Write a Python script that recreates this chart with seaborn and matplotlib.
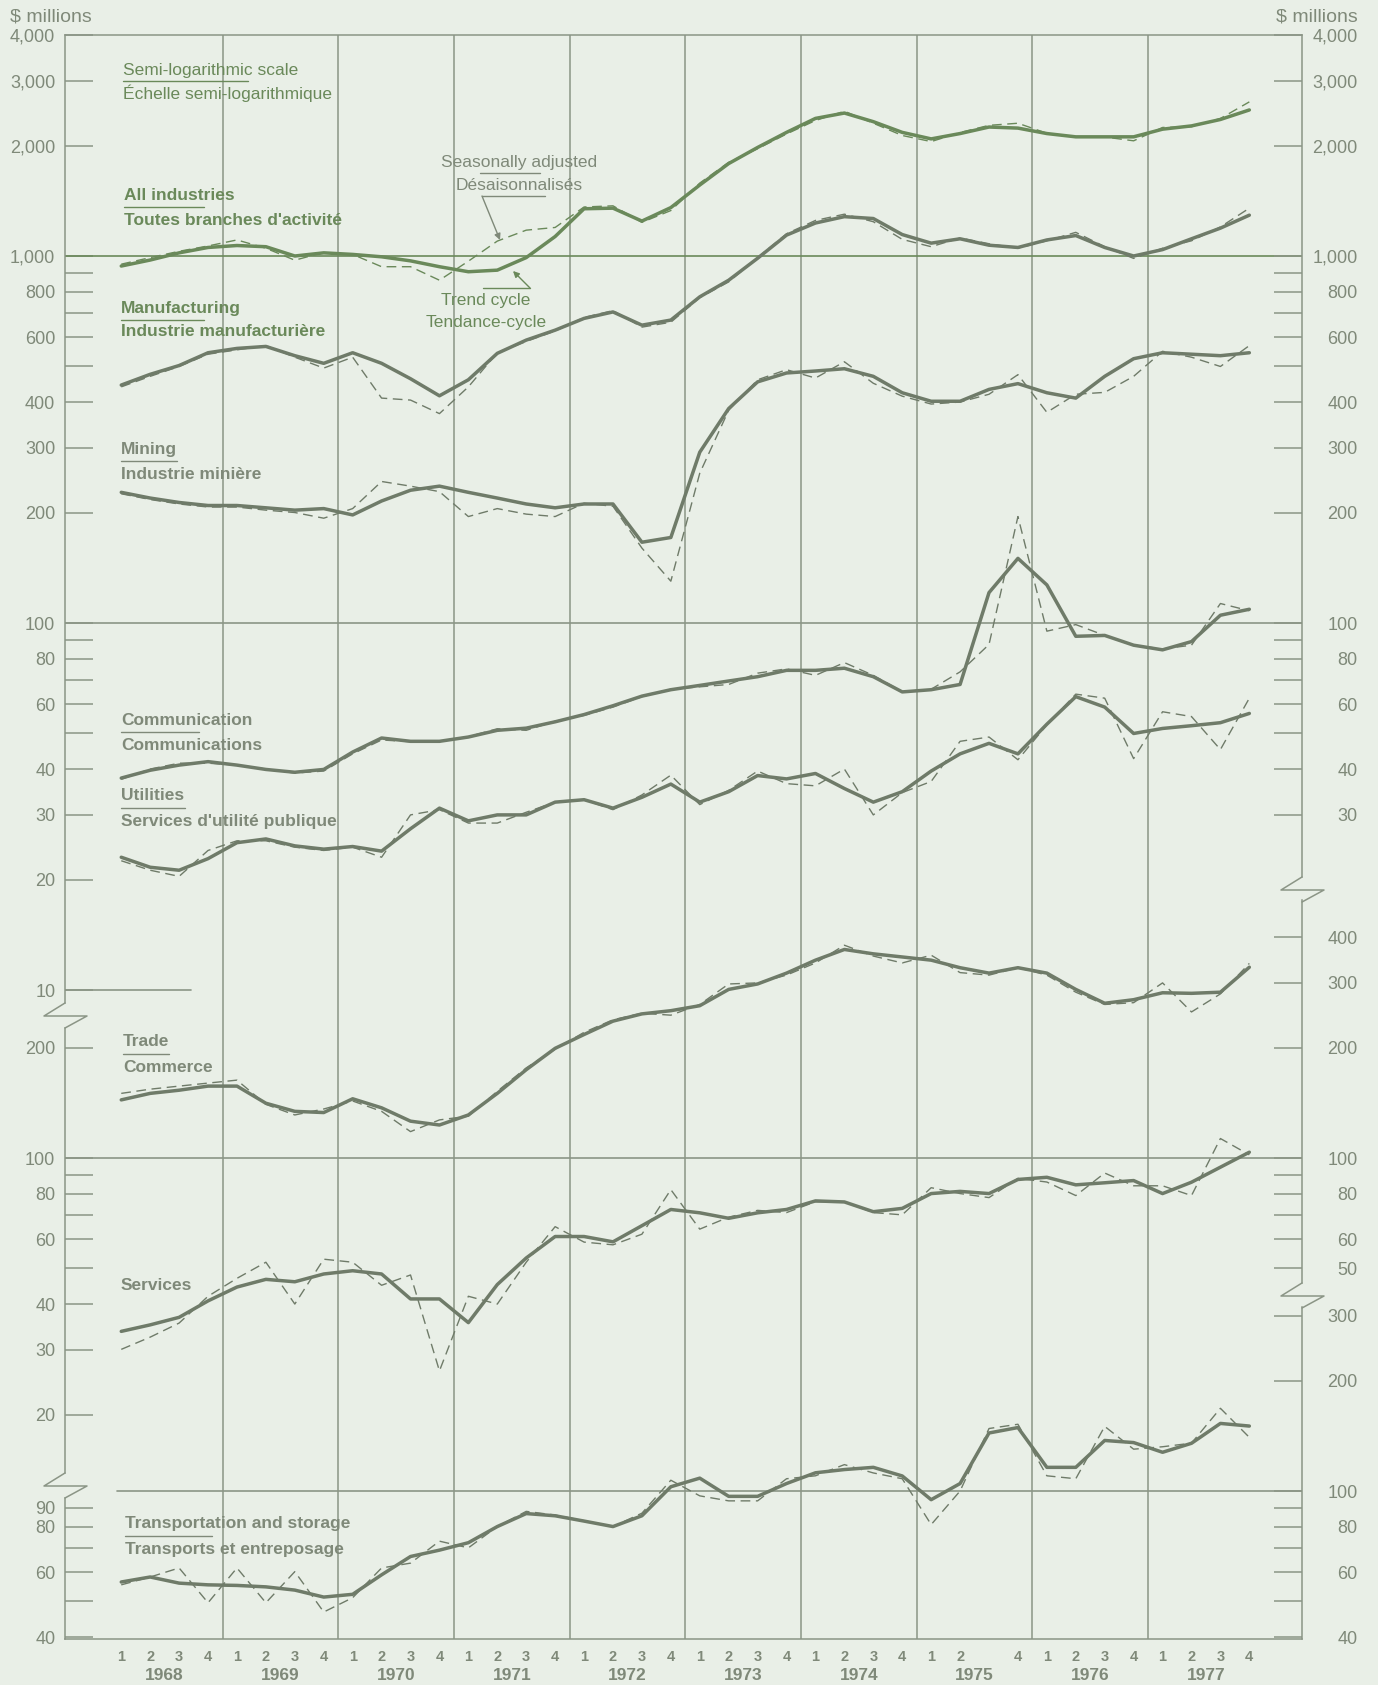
import numpy as np
import pandas as pd
import matplotlib.pyplot as plt
import seaborn as sns
import matplotlib.transforms as mtransforms
from matplotlib.ticker import FixedLocator, FixedFormatter, FuncFormatter, NullFormatter
from matplotlib.lines import Line2D

# ---- data: quarterly, 1968 Q1 .. 1977 Q4, $ millions ----
years = list(range(1968, 1978))
quarter_labels = ['1', '2', '3', '4'] * 10
quarter_labels[30] = ''          # 1975 Q3 not printed on the original

all_trend = [939, 975, 1020, 1055, 1068, 1060, 1000, 1020, 1010, 995, 970, 935,
             906, 915, 990, 1130, 1345, 1350, 1245, 1355, 1561, 1786, 1976, 2172,
             2371, 2452, 2323, 2172, 2085, 2156, 2246, 2231, 2156, 2112, 2112, 2112,
             2216, 2262, 2355, 2500]
all_sa = [950, 990, 1030, 1065, 1106, 1050, 974, 1023, 1010, 935, 935, 859,
          968, 1098, 1176, 1196, 1360, 1370, 1235, 1330, 1580, 1800, 1960, 2150,
          2340, 2480, 2300, 2130, 2050, 2170, 2270, 2300, 2160, 2110, 2110, 2060,
          2240, 2250, 2370, 2630]

manu_trend = [445, 476, 503, 545, 560, 567, 535, 510, 545, 510, 463, 416,
              460, 543, 590, 628, 676, 704, 648, 669, 774, 859, 986, 1140,
              1230, 1280, 1265, 1144, 1084, 1114, 1070, 1055, 1106, 1137, 1055, 1000,
              1041, 1114, 1191, 1292]
manu_sa = [440, 470, 500, 540, 555, 570, 530, 495, 530, 410, 405, 372,
           440, 545, 585, 625, 680, 710, 640, 660, 770, 850, 990, 1150,
           1250, 1300, 1240, 1110, 1060, 1120, 1080, 1050, 1100, 1160, 1060, 985,
           1050, 1100, 1200, 1350]

mining_trend = [227, 219, 213, 209, 209, 206, 203, 205, 197, 215, 230, 236,
                227, 219, 211, 206, 211, 211, 166, 171, 292, 384, 454, 480,
                486, 493, 470, 424, 402, 402, 433, 449, 424, 410, 470, 525,
                545, 540, 535, 545]
mining_sa = [225, 217, 211, 207, 207, 203, 200, 193, 205, 243, 236, 228,
             195, 205, 198, 195, 212, 208, 160, 130, 256, 380, 460, 490,
             465, 515, 450, 415, 395, 400, 420, 475, 375, 420, 425, 470,
             550, 530, 500, 570]

comm_trend = [37.8, 39.7, 41.0, 41.9, 41.0, 39.9, 39.2, 39.9, 44.5, 48.6, 47.6, 47.6,
              48.9, 51.0, 51.7, 53.8, 56.3, 59.5, 63.2, 65.8, 67.6, 69.5, 71.4, 74.3,
              74.3, 75.3, 71.4, 64.9, 65.8, 68.0, 121, 150, 127, 92, 92.5, 87,
              84.5, 89, 105, 109]
comm_sa = [37.5, 40, 41.5, 41.5, 41, 40, 39, 39.5, 44, 48, 47.5, 47.5,
           49, 51.5, 51, 54, 56, 59, 63, 66, 67, 68, 73, 75,
           72, 78, 72, 65, 66, 73.6, 87.4, 195, 95, 99, 92.5, 87,
           85, 87, 113, 108]

util_trend = [23.0, 21.6, 21.2, 22.8, 25.2, 25.8, 24.7, 24.2, 24.6, 23.9, 27.5, 31.3,
              28.9, 30.0, 30.0, 32.5, 33.0, 31.3, 33.5, 36.4, 32.5, 34.7, 38.4, 37.6,
              38.9, 35.4, 32.5, 34.7, 39.5, 44, 47, 44, 53, 63, 59, 50,
              51.6, 52.5, 53.5, 56.7]
util_sa = [22.5, 21.2, 20.4, 24, 25.5, 25.5, 24.5, 24, 24.5, 23, 30, 31,
           28.5, 28.5, 30.5, 32.5, 33, 31, 34, 38.5, 32, 35, 39.5, 36.5,
           36, 40, 30, 34.5, 37, 47.6, 48.9, 42.4, 52.8, 64, 62.4, 42.7,
           57.3, 55.6, 45.2, 62.4]

trade_trend = [144, 150, 153, 157, 157, 141, 134, 133, 145, 137, 126, 123,
               131, 150, 174, 199, 217, 236, 247, 252, 260, 288, 298, 319,
               346, 370, 360, 353, 346, 330, 319, 330, 319, 288, 264, 270,
               282, 281, 283, 331]
trade_sa = [150, 154, 157, 160, 163, 140, 131, 136, 143, 134, 118, 127,
            130, 152, 176, 198, 220, 238, 248, 245, 262, 298, 300, 315,
            340, 380, 355, 340, 357, 320, 315, 330, 315, 283, 262, 265,
            300, 250, 280, 339]

serv_trend = [33.7, 35.1, 36.8, 40.8, 44.5, 46.7, 46.0, 48.3, 49.3, 48.3, 41.3, 41.3,
              35.6, 45.2, 53.4, 61.1, 61.1, 59.1, 65.4, 72.4, 70.9, 68.5, 70.9, 72.4,
              76.4, 75.9, 71.4, 72.9, 80.0, 81.1, 80.0, 87.4, 88.6, 84.5, 85.6, 86.8,
              80.0, 85.9, 94.4, 103.7]
serv_sa = [30.1, 32.5, 35.5, 42, 47, 52, 40, 53, 52, 45, 48, 26.3,
           42, 40, 52, 65, 59, 58, 62, 82, 64, 69, 72, 71,
           76, 76, 71, 70, 83, 80, 78, 88, 86, 79, 91, 84,
           84, 79, 113, 102]

trans_trend = [56.5, 58.3, 56.1, 55.5, 55.3, 54.8, 53.7, 51.4, 52.3, 59.1, 66.3, 69.0,
               72.3, 80.0, 86.8, 85.6, 82.8, 80.0, 85.6, 102.7, 108.4, 96.7, 96.7, 104.8,
               112.1, 114.4, 116.0, 109.9, 94.7, 104.8, 143.9, 148.9, 116, 116, 137.3, 135.5,
               127.5, 134.9, 152.8, 150.3]
trans_sa = [55.5, 58.3, 61.7, 49.6, 61.7, 49.6, 60.3, 46.8, 51.2, 61.7, 63.6, 73,
            70, 80, 88, 86, 83, 80, 87, 107, 97, 94, 94, 108,
            110, 118, 112, 108, 81, 100, 148, 152, 110, 108, 150, 130,
            132, 135, 168, 140]

# ---- layout (pixels of the 1378x1685 figure) ----
W, H = 1378, 1685
L, R, T, B = 65, 1302, 35, 1639
DEC = 367.0                     # pixels per decade on every scale
X1969, YEARPX = 222.5, 115.7    # x pixel of 1969.0 and pixels per year

BG = '#e9efe7'
GRID = '#8b9586'
LINE = '#6f7b69'
GREEN = '#6a895a'
TXT = '#7f8979'


def fx(x):
    return x / W


def fy(y):
    return 1 - y / H


def val(ypx, anchor):
    v, y0 = anchor
    return v * 10 ** ((y0 - ypx) / DEC)


def xv(px):
    return 1969 + (px - X1969) / YEARPX


sns.set_theme(style='white', rc={'figure.facecolor': BG, 'axes.facecolor': BG})
plt.rcParams['font.family'] = ['Liberation Sans', 'DejaVu Sans']

qx = [y + (q - 0.5) / 4 for y in years for q in range(1, 5)]

fig = plt.figure(figsize=(W / 100, H / 100), dpi=100)
rect = [fx(L), fy(B), fx(R) - fx(L), fy(T) - fy(B)]
ax1 = fig.add_axes(rect)
ax2 = fig.add_axes(rect, sharex=ax1)
ax3 = fig.add_axes(rect, sharex=ax1)
b1, b2, b3 = (1000, 256), (100, 1158), (100, 1491)

# ---- series ----
groups = [
    (ax1, all_trend, all_sa, GREEN),
    (ax1, manu_trend, manu_sa, LINE),
    (ax1, mining_trend, mining_sa, LINE),
    (ax1, comm_trend, comm_sa, LINE),
    (ax1, util_trend, util_sa, LINE),
    (ax2, trade_trend, trade_sa, LINE),
    (ax2, serv_trend, serv_sa, LINE),
    (ax3, trans_trend, trans_sa, LINE),
]
for ax, tr, sa, c in groups:
    sns.lineplot(x=qx, y=sa, ax=ax, color=c, linewidth=1.0, linestyle=(0, (7, 4)), zorder=3)
    sns.lineplot(x=qx, y=tr, ax=ax, color=c, linewidth=2.5, zorder=4)

twins = []
for ax, anchor in [(ax1, b1), (ax2, b2), (ax3, b3)]:
    ax.set_yscale('log')
    ax.set_ylim(val(B, anchor), val(T, anchor))
    ax.patch.set_visible(False)
    r = ax.twinx()
    r.set_yscale('log')
    r.set_ylim(val(B, anchor), val(T, anchor))
    twins.append(r)
ax1.set_xlim(xv(L), xv(R))

fmt = FuncFormatter(lambda v, p: f'{v:,.0f}')


def style_y(ax, major, minor, side):
    ax.yaxis.set_major_locator(FixedLocator(major))
    ax.yaxis.set_minor_locator(FixedLocator(minor))
    ax.yaxis.set_major_formatter(fmt)
    ax.yaxis.set_minor_formatter(NullFormatter())
    left = side == 'left'
    ax.tick_params(axis='y', which='both', direction='in', length=20, width=1.1,
                   color=GRID, left=left, right=not left, labelleft=left,
                   labelright=not left, labelsize=13, labelcolor=TXT,
                   pad=7 if left else 40)
    for s in ax.spines.values():
        s.set_visible(False)
    sp = ax.spines[side]
    sp.set_visible(True)
    sp.set_color(GRID)
    sp.set_linewidth(1.1)
    return sp


# left scales
style_y(ax1, [4000, 3000, 2000, 1000, 800, 600, 400, 300, 200, 100, 80, 60, 40, 30, 20, 10],
        [900, 700, 500, 90, 70, 50], 'left').set_bounds(val(1003, b1), 4000)
style_y(ax2, [200, 100, 80, 60, 40, 30, 20], [90, 70, 50], 'left').set_bounds(
    val(1473, b2), val(1028, b2))
style_y(ax3, [90, 80, 60, 40], [70, 50], 'left').set_bounds(val(B, b3), val(1498, b3))
# right scales
style_y(twins[0], [4000, 3000, 2000, 1000, 800, 600, 400, 300, 200, 100, 80, 60, 40, 30],
        [900, 700, 500, 90, 70, 50], 'right').set_bounds(val(877, b1), 4000)
style_y(twins[1], [400, 300, 200, 100, 80, 60, 50], [90, 70], 'right').set_bounds(
    val(1283, b2), val(900, b2))
style_y(twins[2], [300, 200, 100, 80, 60, 40], [90, 70, 50], 'right').set_bounds(
    val(B, b3), val(1307, b3))
for r in twins:
    plt.setp(r.get_yticklabels(), ha='right')

ax1.spines['top'].set_visible(True)
ax1.spines['top'].set_color(GRID)
ax1.spines['top'].set_linewidth(1.1)
ax3.spines['bottom'].set_visible(True)
ax3.spines['bottom'].set_color(GRID)
ax3.spines['bottom'].set_linewidth(1.1)

# ---- x axis: quarters and years ----
ax3.xaxis.set_major_locator(FixedLocator(qx))
ax3.xaxis.set_major_formatter(FixedFormatter(quarter_labels))
ax3.xaxis.set_minor_locator(FixedLocator(np.arange(1968, 1978.01, 0.25)))
for ax in (ax1, ax2):
    ax.tick_params(axis='x', which='both', bottom=False, top=False, labelbottom=False)
ax3.tick_params(axis='x', which='major', length=0, pad=8, labelsize=10.5, labelcolor=TXT)
ax3.tick_params(axis='x', which='minor', direction='in', length=18, width=1.1, color=GRID)
plt.setp(ax3.get_xticklabels(), fontweight='bold')
trans = mtransforms.blended_transform_factory(ax3.transData, fig.transFigure)
for y in years:
    ax3.text(y + 0.5, fy(1675), str(y), transform=trans, ha='center', va='center',
             fontsize=12.5, fontweight='bold', color=TXT)

# ---- grid ----
for y in years[1:]:
    ax1.axvline(y, color=GRID, lw=1.1, zorder=1)
ax1.axhline(1000, color=GREEN, lw=1.2, zorder=1)
ax1.axhline(100, color=GRID, lw=1.2, zorder=1)
ax1.axhline(10, xmax=(191 - L) / (R - L), color=GRID, lw=1.2, zorder=1)
ax2.axhline(100, color=GRID, lw=1.2, zorder=1)
ax3.axhline(100, xmin=(117 - L) / (R - L), color=GRID, lw=1.2, zorder=1)


def seg(xs, ys, color=GRID, lw=1.1):
    fig.add_artist(Line2D([fx(x) for x in xs], [fy(y) for y in ys],
                          transform=fig.transFigure, color=color, lw=lw))


# scale breaks
for x0, y0 in [(L, 1003), (L, 1473), (R, 877), (R, 1283)]:
    seg([x0, x0 - 21, x0 + 22, x0], [y0, y0 + 13, y0 + 13, y0 + 25])

# ---- texts ----
fig.text(fx(10), fy(17), '$ millions', fontsize=14, color=TXT, va='center', ha='left')
fig.text(fx(1358), fy(17), '$ millions', fontsize=14, color=TXT, va='center', ha='right')

REG = 12.5
fig.text(fx(123), fy(70), 'Semi-logarithmic scale', fontsize=REG, color=GREEN, va='center')
fig.text(fx(123), fy(93), 'Échelle semi-logarithmique', fontsize=REG, color=GREEN, va='center')
seg([123, 248], [81, 81], GREEN, 1.0)

fig.text(fx(519), fy(162), 'Seasonally adjusted', fontsize=REG, color=TXT, ha='center', va='center')
fig.text(fx(519), fy(185), 'Désaisonnalisés', fontsize=REG, color=TXT, ha='center', va='center')
seg([480, 540], [173, 173], TXT, 1.0)
seg([482, 545], [196, 196], TXT, 1.0)
fig.text(fx(486), fy(300), 'Trend cycle', fontsize=REG, color=GREEN, ha='center', va='center')
fig.text(fx(486), fy(323), 'Tendance-cycle', fontsize=REG, color=GREEN, ha='center', va='center')
seg([483, 530], [288, 288], GREEN, 1.0)
arrow = dict(arrowstyle='-|>', lw=1.0, mutation_scale=9, shrinkA=0, shrinkB=0)
ax1.annotate('', xy=(fx(500), fy(240)), xytext=(fx(482), fy(196)), xycoords='figure fraction',
             textcoords='figure fraction', arrowprops=dict(arrow, color=TXT))
ax1.annotate('', xy=(fx(513), fy(271)), xytext=(fx(530), fy(288)), xycoords='figure fraction',
             textcoords='figure fraction', arrowprops=dict(arrow, color=GREEN))

BOLD = 12.5
labels = [
    (124, 195, 220, 'All industries', "Toutes branches d'activité", 80, GREEN),
    (121, 308, 332, 'Manufacturing', 'Industrie manufacturière', 83, GREEN),
    (121, 449, 474, 'Mining', 'Industrie minière', 56, TXT),
    (121, 720, 745, 'Communication', 'Communications', 78, TXT),
    (121, 795, 821, 'Utilities', "Services d'utilité publique", 64, TXT),
    (123, 1042, 1067, 'Trade', 'Commerce', 46, TXT),
    (125, 1523, 1549, 'Transportation and storage', 'Transports et entreposage', 87, TXT),
]
for x, y_en, y_fr, en, fr, ul, c in labels:
    fig.text(fx(x), fy(y_en), en, fontsize=BOLD, fontweight='bold', color=c, va='center')
    fig.text(fx(x), fy(y_fr), fr, fontsize=BOLD, fontweight='bold', color=c, va='center')
    ymid = (y_en + y_fr) / 2
    seg([x, x + ul], [ymid, ymid], c, 1.0)
fig.text(fx(121), fy(1286), 'Services', fontsize=BOLD, fontweight='bold', color=TXT, va='center')

fig.savefig('out.png', dpi=100, facecolor=BG)
